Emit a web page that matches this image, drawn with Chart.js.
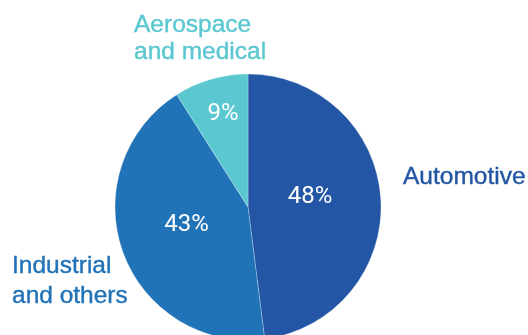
<!DOCTYPE html>
<html>
<head>
<meta charset="utf-8">
<script src="https://cdn.jsdelivr.net/npm/chart.js@4/dist/chart.umd.min.js"></script>
<style>
  html, body { margin: 0; padding: 0; background: #fff; }
  #wrap { width: 528px; height: 335px; position: relative; }
</style>
</head>
<body>
<div id="wrap"><canvas id="segmentChart"></canvas></div>
<script>
// --- data ---
const segments = ['Automotive', 'Industrial and others', 'Aerospace and medical'];
const shares = [48, 43, 9];
const sliceColors = ['#2356a5', '#2173b8', '#5ac7d1'];

// outside label lines, one entry per segment
const labelLines = [['Automotive'], ['Industrial', 'and others'], ['Aerospace', 'and medical']];
// where each label sits: [x, first baseline, line height]
const labelPos = [[403, 184, 28], [12, 273, 30], [134, 32, 26.5]];
// percent label placement inside a slice: [fraction of radius, angle shift in rad]
const pctAnchor = [[0.472, -0.098], [0.482, 0.061], [0.724, 0.021]];

// percent text in the slices + category names around the pie
const pieLabels = {
    id: 'pieLabels',
    afterDatasetsDraw(chart) {
        const ctx = chart.ctx;
        const arcs = chart.getDatasetMeta(0).data;
        ctx.save();
        ctx.textAlign = 'center';
        ctx.textBaseline = 'middle';
        ctx.fillStyle = '#ffffff';
        ctx.font = '24px Roboto';
        arcs.forEach((arc, i) => {
            const mid = (arc.startAngle + arc.endAngle) / 2 + pctAnchor[i][1];
            const r = arc.outerRadius * pctAnchor[i][0];
            ctx.fillText(shares[i] + '%', arc.x + Math.cos(mid) * r, arc.y + Math.sin(mid) * r);
        });

        ctx.textAlign = 'left';
        ctx.textBaseline = 'alphabetic';
        ctx.font = '24.5px "Liberation Sans", Arial, sans-serif';
        ctx.lineWidth = 0.4;
        labelLines.forEach((lines, i) => {
            const [x, y, lh] = labelPos[i];
            ctx.fillStyle = sliceColors[i];
            ctx.strokeStyle = sliceColors[i];
            lines.forEach((t, j) => {
                ctx.fillText(t, x, y + j * lh);
                ctx.strokeText(t, x, y + j * lh);
            });
        });
        ctx.restore();
    }
};

new Chart(document.getElementById('segmentChart'), {
    type: 'pie',
    data: {
        labels: segments,
        datasets: [{
            data: shares,
            backgroundColor: sliceColors,
            borderColor: 'rgba(255,255,255,0.45)',
            borderWidth: 0.6
        }]
    },
    options: {
        responsive: true,
        maintainAspectRatio: false,
        animation: false,
        radius: 133,
        layout: { padding: { left: 0, right: 32, top: 79, bottom: 0 } },
        plugins: {
            legend: { display: false },
            tooltip: { enabled: false }
        }
    },
    plugins: [pieLabels]
});
</script>
</body>
</html>
